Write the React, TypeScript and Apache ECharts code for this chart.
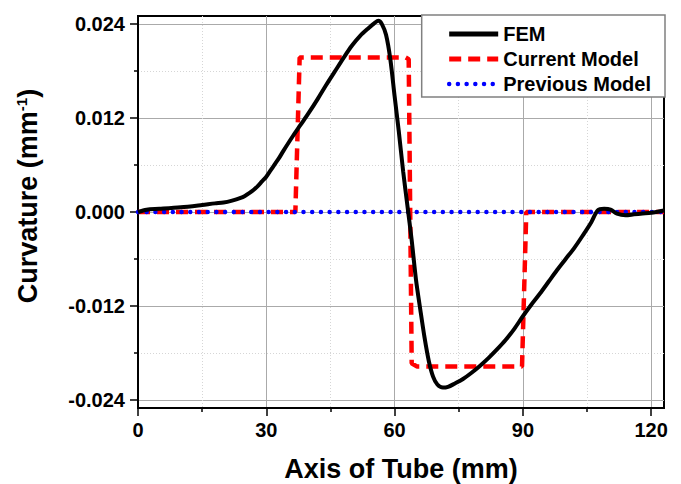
import React, { useEffect, useRef } from 'react';
import * as echarts from 'echarts';

const FONT = "'Liberation Sans', Arial, sans-serif";

const femX = [0, 2, 5, 10, 15, 18, 20, 22, 24, 25, 26, 27, 28, 29, 30, 31, 32, 33, 34, 36, 38, 40, 42, 44, 46, 48, 50, 52, 54, 55.3, 56.2, 57, 58, 59, 60, 61, 62, 63, 64, 65, 66, 67, 68, 69, 70, 71.3, 72.5, 74, 76, 78, 80, 82, 84, 86, 88, 90, 92, 94, 96, 98, 100, 102, 104, 106, 107.5, 109, 110.5, 112, 114, 116, 118, 120, 123];
const femY = [0, 0.0003, 0.0004, 0.0006, 0.0009, 0.0011, 0.0012, 0.00145, 0.0018, 0.00205, 0.0024, 0.0028, 0.0033, 0.0039, 0.0045, 0.0053, 0.0061, 0.0069, 0.0078, 0.0095, 0.0111, 0.0127, 0.0144, 0.0162, 0.0179, 0.0196, 0.0212, 0.0225, 0.0235, 0.0241, 0.0244, 0.024, 0.0226, 0.0195, 0.0148, 0.0102, 0.0052, 0.0008, -0.0036, -0.0086, -0.0124, -0.016, -0.019, -0.021, -0.022, -0.0224, -0.0223, -0.0219, -0.0213, -0.0205, -0.0196, -0.0186, -0.0175, -0.0163, -0.0149, -0.0133, -0.0118, -0.0104, -0.0089, -0.0074, -0.006, -0.0046, -0.003, -0.0013, 0.0002, 0.0004, 0.0003, -0.0002, -0.0004, -0.0003, -0.0002, -0.0001, 0.0002];

const currentX = [0, 36.8, 37.8, 62.6, 63.3, 64.0, 65.2, 89.8, 90.8, 123];
const currentY = [0, 0, 0.0197, 0.0197, 0.0195, -0.0193, -0.0197, -0.0197, 0, 0];

const previousX = [0, 123];
const previousY = [0, 0];

const xMajorTicks = [0, 30, 60, 90, 120];
const xMinorTicks = [15, 45, 75, 105];
const yMajorTicks = [-0.024, -0.012, 0, 0.012, 0.024];
const yMinorTicks = [-0.018, -0.006, 0.006, 0.018];

const pairs = (xs: number[], ys: number[]) => xs.map((x, i) => [x, ys[i]]);

export default function App() {
  const ref = useRef<HTMLDivElement>(null);
  useEffect(() => {
    if (!ref.current) return;
    const chart = echarts.init(ref.current, undefined, { renderer: 'svg' });
    const labelStyle = { fontSize: 20, fontWeight: 'bold', color: '#000', fontFamily: FONT };
    const tickLine = { color: '#000', width: 1.5 };
    const femLine = { color: '#000', width: 4 };
    const currentLine = { color: '#ff0000', width: 4.5, type: [12, 7] };
    const previousLine = { color: '#0000ff', width: 4.5, type: [0.01, 8.7], cap: 'round' };
    chart.setOption({
      animation: false,
      backgroundColor: '#fff',
      grid: {
        left: 138, right: 17, top: 16, bottom: 76,
        show: true, borderColor: '#000', borderWidth: 2,
        outerBoundsMode: 'none',
      },
      legend: {
        data: [
          { name: 'FEM', lineStyle: { ...femLine, width: 5 } },
          { name: 'Current Model', lineStyle: { ...currentLine, width: 5 } },
          { name: 'Previous Model', lineStyle: { ...previousLine } },
        ],
        orient: 'vertical',
        right: 16, top: 15,
        itemWidth: 49, itemHeight: 14, itemGap: 5,
        padding: [9, 14, 3, 25],
        backgroundColor: '#fff',
        borderColor: '#808080', borderWidth: 1.5, borderRadius: 0,
        selectedMode: false,
        align: 'left',
        z: 10,
        itemStyle: { opacity: 0 },
        textStyle: { fontSize: 20, fontWeight: 'bold', color: '#000', fontFamily: FONT, lineHeight: 20 },
      },
      xAxis: [
        {
          type: 'value', min: 0, max: 123, position: 'bottom',
          axisLine: { show: true, onZero: false, lineStyle: { color: '#000', width: 2 } },
          axisTick: { show: true, customValues: xMajorTicks, length: 8, lineStyle: tickLine },
          axisLabel: { customValues: xMajorTicks, margin: 12, ...labelStyle },
          splitLine: { show: true, lineStyle: { color: '#aaaaaa', width: 1 } },
          name: 'Axis of Tube (mm)', nameLocation: 'middle', nameGap: 47,
          nameTextStyle: { fontSize: 27, fontWeight: 'bold', color: '#000', fontFamily: FONT },
        },
        {
          type: 'value', min: 0, max: 123, position: 'bottom',
          axisLine: { show: false, onZero: false },
          axisTick: { show: true, customValues: xMinorTicks, length: 4, lineStyle: tickLine },
          axisLabel: { show: false },
          splitLine: { show: true, lineStyle: { color: '#d6d6d6', width: 1, type: [1, 2] } },
        },
      ],
      yAxis: [
        {
          type: 'value', min: -0.025, max: 0.025, position: 'left',
          axisLine: { show: true, onZero: false, lineStyle: { color: '#000', width: 2 } },
          axisTick: { show: true, customValues: yMajorTicks, length: 8, lineStyle: tickLine },
          axisLabel: { customValues: yMajorTicks, margin: 13, formatter: (v: number) => v.toFixed(3), ...labelStyle },
          splitLine: { show: true, lineStyle: { color: '#aaaaaa', width: 1 } },
          name: '{a|Curvature (mm}{b|-1}{a|)}', nameLocation: 'middle', nameGap: 97,
          nameTextStyle: {
            padding: [0, 0, 0, 32],
            rich: {
              a: { fontSize: 27, fontWeight: 'bold', color: '#000', fontFamily: FONT },
              b: { fontSize: 15, fontWeight: 'bold', color: '#000', fontFamily: FONT, verticalAlign: 'top' },
            },
          },
        },
        {
          type: 'value', min: -0.025, max: 0.025, position: 'left',
          axisLine: { show: false, onZero: false },
          axisTick: { show: true, customValues: yMinorTicks, length: 4, lineStyle: tickLine },
          axisLabel: { show: false },
          splitLine: { show: true, lineStyle: { color: '#d6d6d6', width: 1, type: [1, 2] } },
        },
      ],
      series: [
        {
          name: 'Current Model', type: 'line', xAxisIndex: 0, yAxisIndex: 0,
          data: pairs(currentX, currentY), symbol: 'none', z: 2,
          itemStyle: { color: '#ff0000' },
          lineStyle: currentLine,
        },
        {
          name: 'Previous Model', type: 'line', xAxisIndex: 0, yAxisIndex: 0,
          data: pairs(previousX, previousY), symbol: 'none', z: 3,
          itemStyle: { color: '#0000ff' },
          lineStyle: previousLine,
        },
        {
          name: 'FEM', type: 'line', xAxisIndex: 0, yAxisIndex: 0,
          data: pairs(femX, femY), symbol: 'none', z: 4, smooth: 0.3,
          itemStyle: { color: '#000' },
          lineStyle: femLine,
        },
      ],
    });
    return () => chart.dispose();
  }, []);
  return <div ref={ref} style={{ position: 'absolute', left: 0, top: 0, width: 681, height: 484 }} />;
}
